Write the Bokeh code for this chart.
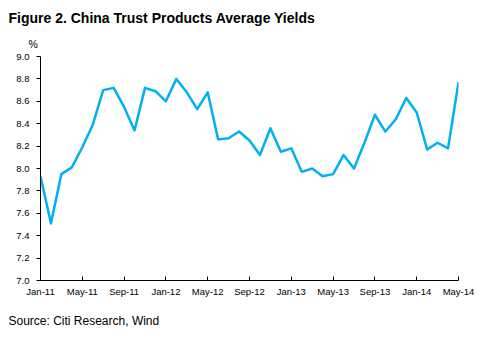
from bokeh.plotting import figure
from bokeh.models import Range1d, FixedTicker, Title
from bokeh.embed import file_html
from bokeh.resources import INLINE

title_text = "Figure 2. China Trust Products Average Yields"
source_text = "Source: Citi Research, Wind"
unit_text = "%"

tick_labels = ["Jan-11", "May-11", "Sep-11", "Jan-12", "May-12", "Sep-12",
               "Jan-13", "May-13", "Sep-13", "Jan-14", "May-14"]
# monthly average yield (%), Jan-11 .. May-14
yields = [7.93, 7.51, 7.95, 8.01, 8.19, 8.39, 8.70, 8.72, 8.55, 8.34,
          8.72, 8.69, 8.60, 8.80, 8.68, 8.53, 8.68, 8.26, 8.27, 8.33,
          8.25, 8.12, 8.36, 8.15, 8.18, 7.97, 8.00, 7.93, 7.95, 8.12,
          8.00, 8.23, 8.48, 8.33, 8.44, 8.63, 8.50, 8.17, 8.23, 8.18,
          8.77]
y_ticks = [7.0, 7.2, 7.4, 7.6, 7.8, 8.0, 8.2, 8.4, 8.6, 8.8, 9.0]

months = list(range(len(yields)))
tick_pos = [4 * i for i in range(len(tick_labels))]

FONT = "Liberation Sans"

p = figure(width=483, height=339, output_backend="svg", toolbar_location=None,
           x_range=Range1d(0, 40), y_range=Range1d(7.0, 9.0),
           min_border_left=40, min_border_right=25,
           min_border_top=56, min_border_bottom=59)
p.outline_line_color = None
p.xgrid.visible = False
p.ygrid.visible = False
p.background_fill_color = "white"
p.border_fill_color = "white"

p.line(months, yields, line_color="#00B0F0", line_width=2.5, line_join="round")

xa = p.xaxis[0]
xa.ticker = FixedTicker(ticks=tick_pos)
xa.major_label_overrides = {t: l for t, l in zip(tick_pos, tick_labels)}
xa.major_tick_in = 4
xa.major_tick_out = 0
xa.minor_tick_line_color = None
xa.major_label_standoff = 5
xa.major_label_text_font = FONT
xa.major_label_text_font_size = "9.5px"
xa.major_label_text_color = "black"
xa.axis_line_color = "black"
xa.major_tick_line_color = "black"

ya = p.yaxis[0]
ya.ticker = FixedTicker(ticks=y_ticks)
ya.major_label_overrides = {v: f"{v:.1f}" for v in y_ticks}
ya.major_tick_in = 0
ya.major_tick_out = 4
ya.minor_tick_line_color = None
ya.major_label_standoff = 7
ya.major_label_text_font = FONT
ya.major_label_text_font_size = "9.5px"
ya.major_label_text_color = "black"
ya.axis_line_color = "black"
ya.major_tick_line_color = "black"

t_unit = Title(text=unit_text, align="left", offset=-12, standoff=14,
               text_font=FONT, text_font_size="10.5px", text_font_style="normal",
               text_color="black")
t_main = Title(text=title_text, align="left", offset=-32, standoff=6,
               text_font=FONT, text_font_size="14px", text_font_style="bold",
               text_color="black")
p.add_layout(t_unit, "above")
p.add_layout(t_main, "above")

t_src = Title(text=source_text, align="left", offset=-32, standoff=24,
              text_font=FONT, text_font_size="12px", text_font_style="normal",
              text_color="black")
p.add_layout(t_src, "below")

open("out.html", "w").write(file_html(p, INLINE))
